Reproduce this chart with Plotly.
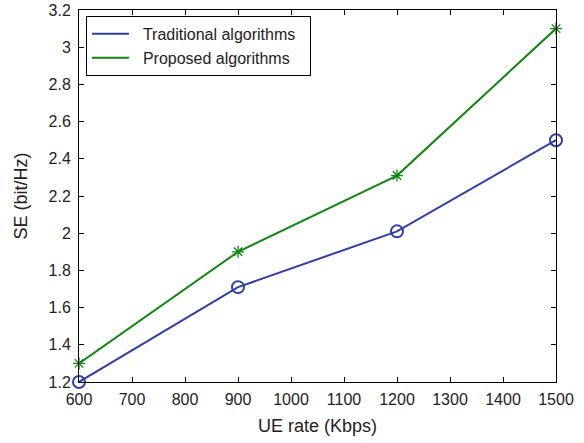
import plotly.graph_objects as go

ue_rate = [600, 900, 1200, 1500]
traditional = [1.2, 1.71, 2.01, 2.5]
proposed = [1.3, 1.9, 2.31, 3.1]
x_ticks = [600, 700, 800, 900, 1000, 1100, 1200, 1300, 1400, 1500]
y_ticks = [1.2, 1.4, 1.6, 1.8, 2.0, 2.2, 2.4, 2.6, 2.8, 3.0, 3.2]
y_labels = ["1.2", "1.4", "1.6", "1.8", "2", "2.2", "2.4", "2.6", "2.8", "3", "3.2"]
series_names = ["Traditional algorithms", "Proposed algorithms"]

blue = "#2f3fa6"
green = "#128512"
font = "Liberation Sans, Arial, sans-serif"
nb = "\u00a0"

fig = go.Figure()
fig.add_trace(go.Scatter(x=ue_rate, y=traditional, mode="lines+markers",
                         line=dict(color=blue, width=2),
                         marker=dict(symbol="circle-open", size=12, color=blue, line=dict(width=2)),
                         showlegend=False, cliponaxis=False))
fig.add_trace(go.Scatter(x=ue_rate, y=proposed, mode="lines+markers",
                         line=dict(color=green, width=2),
                         marker=dict(symbol="asterisk-open", size=10, color=green, line=dict(width=1.3, color=green)),
                         showlegend=False, cliponaxis=False))
for name, col in zip(series_names, [blue, green]):
    fig.add_trace(go.Scatter(x=[None], y=[None], mode="lines", name=nb * 2 + name + nb * 2,
                             line=dict(color=col, width=2)))

axis_common = dict(showline=True, linecolor="black", linewidth=1, mirror="ticks",
                   ticks="inside", ticklen=5, tickcolor="black", showgrid=False,
                   zeroline=False, tickfont=dict(size=16, color="#222"),
                   ticklabeloverflow="allow", automargin=False)
fig.update_layout(
    width=584, height=443,
    margin=dict(l=79, r=28, t=10, b=61),
    paper_bgcolor="white", plot_bgcolor="white",
    font=dict(family=font, size=16, color="#222"),
    xaxis=dict(range=[600, 1500], tickvals=x_ticks, ticklabelstandoff=3,
               title=dict(text="UE rate (Kbps)", font=dict(size=18), standoff=12), **axis_common),
    yaxis=dict(range=[1.2, 3.2], tickvals=y_ticks, ticktext=y_labels, ticklabelstandoff=4,
               title=dict(text="SE (bit/Hz)", font=dict(size=18), standoff=16), **axis_common),
    legend=dict(x=0.0147, y=0.984, xanchor="left", yanchor="top",
                bordercolor="black", borderwidth=1, bgcolor="white",
                font=dict(size=16, color="#222"), itemwidth=37, tracegroupgap=0),
)
fig.write_html("out.html")
